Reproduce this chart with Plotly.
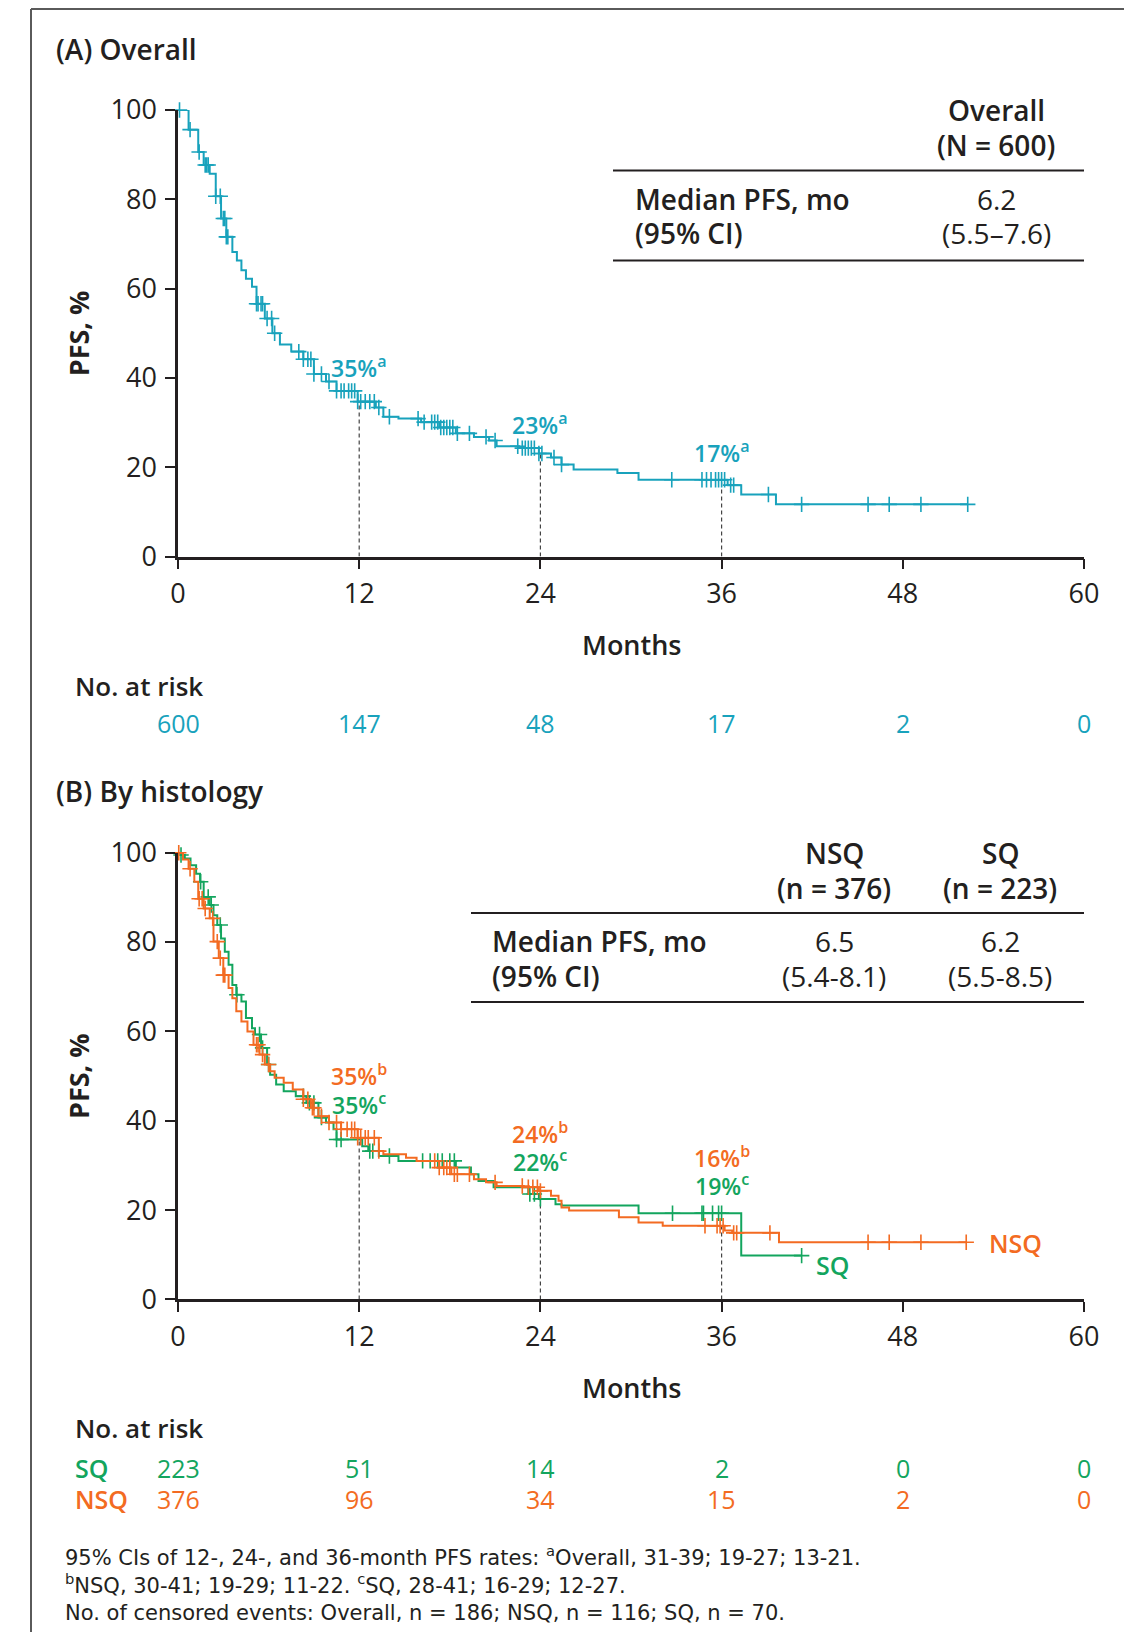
import plotly.graph_objects as go

# reference canvas is 1132x1640; the page body adds an 8px margin, so the figure is
# drawn 16px smaller and every reference pixel position is shifted by 8px.
REF_W, REF_H = 1132, 1640
OFF = 8
W, H = REF_W - 2 * OFF, REF_H - 2 * OFF
FONT = "Open Sans"
FOOT_FONT = "DejaVu Sans"
BLACK = "#231f20"
TEAL = "#18a2bc"
ORANGE = "#f36b22"
GREEN = "#13a55e"

# ---------------- data ----------------
months_ticks = [0, 12, 24, 36, 48, 60]
pfs_ticks = [0, 20, 40, 60, 80, 100]

# Overall KM curve (time in months, PFS %)
ov_t = [0, 0.7, 1.34, 1.7, 2.1, 2.5, 2.85, 3.2, 3.6, 3.9, 4.2, 4.5, 4.9, 5.2, 5.75, 6.25, 6.75,
        7.5, 8.3, 9.0, 9.8, 10.5, 11.9, 13.1, 13.6, 14.6, 16.1, 17.3, 18.4, 19.6, 20.6, 21.1,
        22.6, 23.9, 24.7, 25.4, 26.2, 29.1, 30.5, 36.4, 37.3, 39.6, 52.3]
ov_s = [100, 95.6, 90.6, 87.7, 85.7, 80.7, 75.7, 71.6, 68.2, 66.3, 64.1, 62.2, 60.4, 56.6, 53.3,
        50.0, 47.5, 45.9, 44.2, 40.9, 39.2, 37.1, 34.7, 33.4, 31.3, 30.9, 30.1, 28.9, 27.6, 26.8,
        26.0, 24.7, 24.3, 23.1, 22.2, 20.6, 19.5, 18.7, 17.2, 16.0, 13.9, 11.7, 11.7]
ov_cens = [0.1, 0.8, 1.4, 1.8, 1.9, 2.0, 2.5, 2.8, 3.0, 3.1, 3.2, 3.3, 5.2, 5.3, 5.5, 5.6, 5.9,
           6.2, 6.4, 8.0, 8.3, 8.6, 8.8, 9.0, 9.5, 10.0, 10.5, 10.8, 11.0, 11.3, 11.5, 11.7, 11.9,
           12.1, 12.4, 12.7, 13.0, 13.3, 14.0, 15.9, 16.3, 16.8, 17.0, 17.2, 17.4, 17.6, 17.8,
           18.0, 18.2, 18.5, 19.3, 20.4, 21.0, 22.5, 22.8, 23.0, 23.2, 23.4, 23.6, 23.9, 24.1,
           24.9, 25.4, 32.7, 34.7, 35.0, 35.3, 35.6, 35.8, 36.0, 36.2, 36.6, 36.8, 39.1, 41.3,
           45.7, 47.1, 49.2, 52.3]

# NSQ KM curve
nsq_t = [0, 0.33, 0.7, 1.08, 1.34, 1.7, 2.1, 2.35, 2.7, 3.0, 3.35, 3.6, 3.86, 4.2, 4.6, 5.0, 5.4,
         5.75, 6.1, 6.4, 7.0, 7.6, 8.3, 8.8, 9.3, 10.0, 10.8, 11.9, 13.3, 13.6, 15.1, 15.8, 17.3,
         18.1, 19.6, 20.4, 21.1, 22.9, 23.9, 24.7, 25.2, 25.4, 25.9, 29.2, 30.5, 32.1, 36.2,
         36.7, 39.8, 52.2]
nsq_s = [100, 98.5, 96.4, 93.5, 89.7, 87.5, 85.3, 80.1, 76.4, 72.6, 69.7, 67.4, 64.5, 62.2, 60.0,
         57.0, 54.8, 52.6, 51.1, 49.6, 48.5, 47.0, 44.8, 42.9, 41.0, 39.6, 38.1, 36.2, 33.2, 32.5,
         31.7, 31.0, 29.5, 28.0, 26.9, 26.2, 25.4, 25.1, 24.3, 23.2, 22.1, 20.6, 19.9, 18.4,
         17.2, 16.5, 15.4, 14.9, 12.8, 12.8]
nsq_cens = [0.05, 0.8, 1.4, 1.6, 1.8, 2.3, 2.6, 2.8, 3.0, 3.1, 5.2, 5.3, 5.6, 6.0, 8.3, 8.6, 8.9,
            9.0, 9.5, 10.0, 10.5, 10.8, 11.2, 11.5, 11.7, 11.9, 12.1, 12.4, 12.6, 13.0, 13.3,
            17.0, 17.3, 17.6, 17.8, 18.0, 18.3, 18.5, 19.3, 21.0, 22.8, 23.2, 23.5, 23.8, 24.0,
            34.9, 35.7, 35.9, 36.1, 36.8, 37.0, 39.2, 45.7, 47.1, 49.2, 52.2]

# SQ KM curve
sq_t = [0, 0.2, 0.45, 0.83, 1.2, 1.46, 1.7, 2.1, 2.35, 2.6, 2.85, 3.1, 3.35, 3.6, 3.86, 4.2, 4.5,
        4.9, 5.1, 5.5, 5.9, 6.1, 6.5, 7.0, 7.8, 8.5, 9.3, 9.8, 10.3, 10.5, 12.2, 12.6, 13.3,
        14.6, 18.4, 19.4, 19.9, 20.9, 23.2, 23.9, 25.0, 25.4, 30.5, 37.3, 41.3]
sq_s = [100, 99.5, 98.7, 97.2, 95.3, 93.5, 90.1, 88.3, 86.0, 83.8, 80.8, 77.8, 74.9, 70.4, 68.2,
        66.7, 63.0, 60.7, 59.3, 56.3, 52.6, 50.3, 48.1, 46.6, 45.5, 44.0, 40.7, 39.6, 38.1, 35.8,
        34.3, 33.2, 32.1, 31.0, 29.5, 28.0, 26.5, 25.1, 23.6, 22.5, 21.3, 21.0, 19.3, 9.8, 9.8]
sq_cens = [0.2, 1.5, 2.0, 2.2, 2.8, 3.9, 5.4, 5.6, 6.0, 8.3, 8.7, 9.0, 9.5, 10.5, 10.8, 12.7,
           12.9, 14.0, 16.2, 16.7, 17.2, 17.5, 18.0, 18.3, 23.3, 23.6, 24.0, 32.75, 34.7, 34.8,
           35.4, 35.8, 36.0, 41.3]

landmarks = [12, 24, 36]
ov_rates = ["35%", "23%", "17%"]
nsq_rates = ["35%", "24%", "16%"]
sq_rates = ["35%", "22%", "19%"]

risk_overall = [600, 147, 48, 17, 2, 0]
risk_sq = [223, 51, 14, 2, 0, 0]
risk_nsq = [376, 96, 34, 15, 2, 0]

footnotes = [
    "95% CIs of 12-, 24-, and 36-month PFS rates: <sup>a</sup>Overall, 31-39; 19-27; 13-21.",
    "<sup>b</sup>NSQ, 30-41; 19-29; 11-22. <sup>c</sup>SQ, 28-41; 16-29; 12-27.",
    "No. of censored events: Overall, n = 186; NSQ, n = 116; SQ, n = 70.",
]


# ---------------- helpers ----------------
def fx(px):
    return (px - OFF) / W


def fy(py):
    return 1 - (py - OFF) / H


def step_at(ts, ss, t):
    v = ss[0]
    for ti, si in zip(ts, ss):
        if ti <= t:
            v = si
        else:
            break
    return v


fig = go.Figure()

X0, X1 = 178, 1084
A_TOP, A_BOT = 110, 556.6
B_TOP, B_BOT = 852.7, 1299.4


def add_curve(ts, ss, cens, color, xa, ya):
    fig.add_trace(go.Scatter(x=ts, y=ss, mode="lines", line=dict(color=color, width=2, shape="hv"),
                             xaxis=xa, yaxis=ya, showlegend=False, hoverinfo="skip"))
    fig.add_trace(go.Scatter(x=cens, y=[step_at(ts, ss, c) for c in cens], mode="markers",
                             marker=dict(symbol="cross-thin", size=11, color=color,
                                         line=dict(color=color, width=1.6)),
                             cliponaxis=False, xaxis=xa, yaxis=ya, showlegend=False,
                             hoverinfo="skip"))


def add_dash(xa, ya, curves):
    for lm in landmarks:
        top = min(step_at(ts, ss, lm) for ts, ss in curves)
        fig.add_trace(go.Scatter(x=[lm, lm], y=[0, top], mode="lines",
                                 line=dict(color="#444444", width=1.2, dash="4px,3px"),
                                 xaxis=xa, yaxis=ya, showlegend=False, hoverinfo="skip"))


# Panel A
add_dash("x", "y", [(ov_t, ov_s)])
add_curve(ov_t, ov_s, ov_cens, TEAL, "x", "y")
# Panel B
add_dash("x2", "y2", [(nsq_t, nsq_s), (sq_t, sq_s)])
add_curve(sq_t, sq_s, sq_cens, GREEN, "x2", "y2")
add_curve(nsq_t, nsq_s, nsq_cens, ORANGE, "x2", "y2")

axis_common = dict(showline=True, linewidth=2.5, linecolor=BLACK, ticks="outside", ticklen=10,
                   tickwidth=2.2, tickcolor=BLACK, showgrid=False, zeroline=False,
                   tickfont=dict(family=FONT, size=27, color=BLACK), fixedrange=True,
                   automargin=False)

fig.update_layout(
    width=W, height=H, autosize=False,
    margin=dict(l=0, r=0, t=0, b=0, pad=0, autoexpand=False),
    paper_bgcolor="white", plot_bgcolor="white",
    xaxis=dict(domain=[fx(X0), fx(X1)], range=[0, 60], tickvals=months_ticks, anchor="y",
               ticklabelstandoff=1, **axis_common),
    yaxis=dict(domain=[fy(A_BOT), fy(A_TOP)], range=[0, 100], tickvals=pfs_ticks, anchor="x",
               ticklabelstandoff=3, **axis_common),
    xaxis2=dict(domain=[fx(X0), fx(X1)], range=[0, 60], tickvals=months_ticks, anchor="y2",
                ticklabelstandoff=1, **axis_common),
    yaxis2=dict(domain=[fy(B_BOT), fy(B_TOP)], range=[0, 100], tickvals=pfs_ticks, anchor="x2",
                ticklabelstandoff=3, **axis_common),
)

ann = []


def text(px, py, s, size=28, color=BLACK, weight=400, xanchor="left", xref="paper", angle=0,
         family=FONT):
    ann.append(dict(x=(fx(px) if xref == "paper" else px), y=fy(py), xref=xref, yref="paper",
                    text=s, showarrow=False, xanchor=xanchor, yanchor="middle", textangle=angle,
                    font=dict(family=family, size=size, color=color, weight=weight)))


# titles
text(54, 49, "(A) Overall", weight=600)
text(54, 791, "(B) By histology", weight=600)
text(78, (A_TOP + A_BOT) / 2, "PFS, %", size=27, weight=700, xanchor="center", angle=-90)
text(78, (B_TOP + B_BOT) / 2, "PFS, %", size=27, weight=700, xanchor="center", angle=-90)
text(631, 644, "Months", size=27, weight=600, xanchor="center")
text(631, 1387, "Months", size=27, weight=600, xanchor="center")

# Table A
text(996, 110, "Overall", weight=600, xanchor="center")
text(996, 145, "(N = 600)", weight=600, xanchor="center")
text(633, 199, "Median PFS, mo", weight=600)
text(633, 233, "(95% CI)", weight=600)
text(996, 199, "6.2", xanchor="center")
text(996, 233, "(5.5\u20137.6)", xanchor="center")

# Table B
text(834, 853, "NSQ", weight=600, xanchor="center")
text(834, 888, "(n = 376)", weight=600, xanchor="center")
text(1000, 853, "SQ", weight=600, xanchor="center")
text(1000, 888, "(n = 223)", weight=600, xanchor="center")
text(490, 941, "Median PFS, mo", weight=600)
text(490, 976, "(95% CI)", weight=600)
text(834, 941, "6.5", xanchor="center")
text(834, 976, "(5.4-8.1)", xanchor="center")
text(1000, 941, "6.2", xanchor="center")
text(1000, 976, "(5.5-8.5)", xanchor="center")

# landmark rate labels
for lm, r, py in zip(landmarks, ov_rates, [367, 424, 452]):
    text(lm, py, r + "<sup>a</sup>", size=23, color=TEAL, weight=600, xanchor="center", xref="x")
for lm, r, py in zip(landmarks, nsq_rates, [1075, 1133, 1157]):
    text(lm, py, r + "<sup>b</sup>", size=23, color=ORANGE, weight=600, xanchor="center", xref="x")
for lm, r, py in zip(landmarks, sq_rates, [1104, 1161, 1185]):
    text(lm, py, r + "<sup>c</sup>", size=23, color=GREEN, weight=600, xanchor="center", xref="x")

# curve end labels
text(53.6, 1243, "NSQ", size=25, color=ORANGE, weight=600, xref="x")
text(42.1, 1265, "SQ", size=25, color=GREEN, weight=600, xref="x")

# risk tables
text(73, 686, "No. at risk", size=26, weight=600)
for m, n in zip(months_ticks, risk_overall):
    text(m, 723, str(n), size=25, color=TEAL, xanchor="center", xref="x")
text(73, 1428, "No. at risk", size=26, weight=600)
text(73, 1468, "SQ", size=25, color=GREEN, weight=600)
text(73, 1499, "NSQ", size=25, color=ORANGE, weight=600)
for m, n in zip(months_ticks, risk_sq):
    text(m, 1468, str(n), size=25, color=GREEN, xanchor="center", xref="x")
for m, n in zip(months_ticks, risk_nsq):
    text(m, 1499, str(n), size=25, color=ORANGE, xanchor="center", xref="x")

# footnotes
for line, py in zip(footnotes, [1556, 1584, 1613]):
    text(63, py, line, size=21, family=FOOT_FONT)

fig.update_layout(annotations=ann)

# frame lines and table rules
shapes = [
    dict(type="line", xref="paper", yref="paper", x0=fx(31), x1=fx(31), y0=fy(9), y1=0,
         line=dict(color="#5a5a5a", width=2)),
    dict(type="line", xref="paper", yref="paper", x0=fx(31), x1=1, y0=fy(9), y1=fy(9),
         line=dict(color="#5a5a5a", width=2)),
]
for x0, y in [(613, 170.5), (613, 260.5), (471, 913), (471, 1002)]:
    shapes.append(dict(type="line", xref="paper", yref="paper", x0=fx(x0), x1=fx(1084),
                       y0=fy(y), y1=fy(y), line=dict(color=BLACK, width=2)))
fig.update_layout(shapes=shapes)

fig.write_html("out.html")
